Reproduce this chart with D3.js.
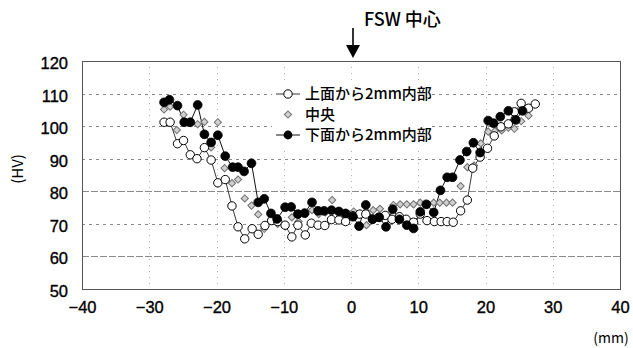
<!DOCTYPE html>
<html>
<head>
<meta charset="utf-8">
<script src="https://cdn.jsdelivr.net/npm/d3@7"></script>
<style>
  html, body { margin: 0; padding: 0; background: #fff; }
  svg { display: block; }
</style>
</head>
<body>
<svg id="chart" width="633" height="348"></svg>
<script>
// Hardness profile across the FSW joint: distance from weld centre (mm) vs Vickers hardness (HV)
const xTicks = [-40, -30, -20, -10, 0, 10, 20, 30, 40];
const yTicks = [50, 60, 70, 80, 90, 100, 110, 120];

const seriesNames = ["上面から2mm内部", "中央", "下面から2mm内部"];

// 上面から2mm内部 (open circles)
const topPos = [-27.8, -26.9, -25.8, -24.9, -23.9, -22.9, -21.8, -20.8, -19.8, -18.7,
  -17.7, -16.8, -15.8, -14.7, -13.8, -12.8, -11.8, -10.9, -9.8, -8.8,
  -7.9, -6.8, -5.9, -4.9, -3.9, -2.9, -1.8, -0.8, 0.3, 1.3,
  2.2, 3.2, 4.1, 5.1, 6.1, 7.2, 8.2, 9.3, 10.3, 11.3,
  12.4, 13.4, 14.3, 15.2, 16.3, 17.3, 18.1, 19.2, 20.3, 21.3,
  22.3, 23.4, 24.3, 25.3, 26.4, 27.4];
const topHV = [101.2, 101.2, 94.6, 95.6, 91.2, 90.0, 93.4, 89.6, 82.6, 83.6,
  75.5, 69.1, 65.4, 68.5, 66.8, 69.5, 71.0, 70.7, 69.6, 66.0,
  69.6, 66.6, 70.2, 69.6, 69.5, 71.3, 71.2, 70.7, 72.5, 73.0,
  73.0, 71.5, 72.0, 72.6, 71.4, 72.2, 71.4, 70.5, 73.0, 71.0,
  70.7, 70.7, 70.7, 70.5, 74.0, 77.3, 87.1, 90.5, 93.2, 97.0,
  99.8, 100.7, 104.4, 107.0, 105.5, 106.8];

// 中央 (grey diamonds)
const midPos = [-27.8, -26.9, -25.9, -24.9, -23.9, -22.8, -21.8, -20.8, -19.8, -18.8,
  -17.7, -16.8, -15.8, -14.8, -13.8, -12.9, -11.9, -10.9, -9.8, -8.8,
  -7.8, -6.8, -5.8, -4.8, -3.8, -2.8, -1.8, -0.8, 0.4, 1.3,
  2.3, 3.3, 4.3, 5.2, 6.3, 7.3, 8.3, 9.3, 10.3, 11.3,
  12.3, 13.2, 14.2, 15.1, 16.3, 17.3, 18.3, 19.3, 20.4, 21.4,
  22.4, 23.4, 24.3, 25.3, 26.4];
const midHV = [105.1, 106.0, 98.8, 103.5, 101.0, 100.6, 101.3, 93.5, 101.2, 87.1,
  82.5, 83.6, 77.8, 75.6, 72.9, 68.5, 71.2, 70.0, 69.2, 72.0,
  70.7, 73.0, 74.2, 73.0, 73.5, 77.3, 73.8, 72.5, 73.8, 73.0,
  69.6, 74.2, 74.6, 72.7, 75.8, 76.0, 76.0, 76.0, 76.5, 75.8,
  76.5, 76.5, 76.5, 76.5, 81.6, 87.4, 87.9, 94.7, 98.3, 98.5,
  98.7, 99.5, 99.2, 101.5, 103.2];

// 下面から2mm内部 (filled circles)
const botPos = [-27.8, -27.0, -25.8, -24.8, -23.9, -22.8, -21.8, -20.8, -19.8, -18.7,
  -17.6, -16.8, -15.9, -14.8, -13.8, -12.9, -11.9, -11.0, -9.8, -8.9,
  -7.9, -6.9, -5.8, -4.9, -4.0, -2.9, -1.8, -0.8, 0.3, 1.2,
  2.2, 3.2, 4.2, 5.2, 6.2, 7.2, 8.3, 9.3, 10.3, 11.2,
  12.3, 13.3, 14.3, 15.1, 16.2, 17.2, 18.2, 19.2, 20.4, 21.2,
  22.2, 23.4, 24.5, 25.5];
const botHV = [107.3, 108.1, 106.3, 101.2, 101.2, 106.5, 97.5, 95.0, 97.2, 90.8,
  87.4, 87.4, 86.1, 88.6, 76.6, 77.7, 73.2, 71.5, 75.1, 75.2,
  73.0, 73.3, 76.6, 74.0, 74.0, 74.2, 73.8, 73.2, 72.2, 69.3,
  75.8, 71.4, 72.0, 69.1, 74.5, 71.4, 69.6, 68.6, 73.7, 76.0,
  73.5, 80.3, 84.3, 84.3, 89.6, 92.2, 94.9, 91.9, 101.7, 100.9,
  102.9, 104.7, 101.9, 104.7];

const svg = d3.select("#chart");
const plot = { left: 82, right: 620, top: 61, bottom: 289 };

const x = d3.scaleLinear().domain([-40, 40]).range([plot.left, plot.right]);
const y = d3.scaleLinear().domain([50, 120]).range([plot.bottom, plot.top]);

const numFont = "'Liberation Sans', Arial, sans-serif";
const jpFont = "'Noto Sans CJK JP', 'Noto Sans', sans-serif";

// grid
const grid = svg.append("g");
grid.selectAll("line.h")
  .data(yTicks.filter(d => d > 50 && d < 120))
  .join("line")
  .attr("x1", plot.left).attr("x2", plot.right)
  .attr("y1", d => Math.round(y(d)) + 0.5).attr("y2", d => Math.round(y(d)) + 0.5)
  .attr("stroke", "#8a8a8a").attr("stroke-width", 1)
  .attr("stroke-dasharray", d => (d === 80 || d === 60) ? "7,2" : "3,4");
grid.selectAll("line.v")
  .data(xTicks.filter(d => d > -40 && d < 40))
  .join("line")
  .attr("x1", d => Math.round(x(d)) + 0.5).attr("x2", d => Math.round(x(d)) + 0.5)
  .attr("y1", plot.top).attr("y2", plot.bottom)
  .attr("stroke", "#b0b0b0").attr("stroke-width", 1)
  .attr("stroke-dasharray", "1,5");

// frame
svg.append("rect")
  .attr("x", plot.left + 0.5).attr("y", plot.top + 0.5)
  .attr("width", plot.right - plot.left).attr("height", plot.bottom - plot.top)
  .attr("fill", "none").attr("stroke", "#555").attr("stroke-width", 1);

// axes (labels only, domain drawn by the frame)
const yAxis = d3.axisLeft(y).tickValues(yTicks).tickSize(0).tickPadding(14);
svg.append("g").attr("transform", `translate(${plot.left},0)`).call(yAxis)
  .call(g => g.select(".domain").remove())
  .call(g => g.selectAll("text").attr("font-family", numFont).attr("font-size", 16.5)
    .attr("fill", "#000").attr("stroke", "#000").attr("stroke-width", 0.35).attr("dy", "0.45em"));

const xAxis = d3.axisBottom(x).tickValues(xTicks).tickSize(0).tickPadding(12)
  .tickFormat(d => d < 0 ? "\u2212" + Math.abs(d) : String(d));
svg.append("g").attr("transform", `translate(0,${plot.bottom})`).call(xAxis)
  .call(g => g.select(".domain").remove())
  .call(g => g.selectAll("text").attr("font-family", numFont).attr("font-size", 16.5)
    .attr("fill", "#000").attr("stroke", "#000").attr("stroke-width", 0.35));

// axis titles
svg.append("text")
  .attr("transform", "translate(23,169) rotate(-90)")
  .attr("text-anchor", "middle")
  .attr("font-family", jpFont).attr("font-size", 15)
  .text("(HV)");
svg.append("text")
  .attr("x", 611).attr("y", 343)
  .attr("text-anchor", "middle")
  .attr("font-family", jpFont).attr("font-size", 14)
  .text("(mm)");

// weld centre marker
const cx = x(0) + 2;
svg.append("line")
  .attr("x1", cx).attr("x2", cx).attr("y1", 28).attr("y2", 46)
  .attr("stroke", "#000").attr("stroke-width", 1.6);
svg.append("path")
  .attr("d", `M${cx - 7},45 L${cx + 7},45 L${cx},58 Z`)
  .attr("fill", "#000");
svg.append("text")
  .attr("x", 364).attr("y", 26)
  .attr("font-family", jpFont).attr("font-size", 18).attr("font-weight", 500)
  .text("FSW 中心");

// series
const line = d3.line().x(d => x(d[0])).y(d => y(d[1]));
const topData = d3.zip(topPos, topHV);
const midData = d3.zip(midPos, midHV);
const botData = d3.zip(botPos, botHV);

const diamond = d3.symbol().type(d3.symbolSquare).size(26);

svg.append("path").datum(topData).attr("d", line)
  .attr("fill", "none").attr("stroke", "#222").attr("stroke-width", 0.9);
svg.append("path").datum(botData).attr("d", line)
  .attr("fill", "none").attr("stroke", "#111").attr("stroke-width", 1);

svg.append("g").selectAll("path").data(midData).join("path")
  .attr("d", diamond)
  .attr("transform", d => `translate(${x(d[0])},${y(d[1])}) rotate(45)`)
  .attr("fill", "#d0d0d0").attr("stroke", "#707070").attr("stroke-width", 1);

svg.append("g").selectAll("circle").data(topData).join("circle")
  .attr("cx", d => x(d[0])).attr("cy", d => y(d[1])).attr("r", 4.2)
  .attr("fill", "#fff").attr("stroke", "#000").attr("stroke-width", 1);

svg.append("g").selectAll("circle").data(botData).join("circle")
  .attr("cx", d => x(d[0])).attr("cy", d => y(d[1])).attr("r", 4.4)
  .attr("fill", "#000").attr("stroke", "#000").attr("stroke-width", 0.8);

// legend
const legend = svg.append("g").attr("transform", "translate(276,0)");
const rows = [94, 114.5, 135];
legend.append("rect").attr("x", -4).attr("y", 84).attr("width", 160).attr("height", 62).attr("fill", "#fff");
// row 1
legend.append("line").attr("x1", 0).attr("x2", 24).attr("y1", rows[0]).attr("y2", rows[0])
  .attr("stroke", "#222").attr("stroke-width", 0.9);
legend.append("circle").attr("cx", 12).attr("cy", rows[0]).attr("r", 4.2)
  .attr("fill", "#fff").attr("stroke", "#000");
// row 2
legend.append("path").attr("d", diamond)
  .attr("transform", `translate(12,${rows[1]}) rotate(45)`)
  .attr("fill", "#d0d0d0").attr("stroke", "#707070");
// row 3
legend.append("line").attr("x1", 0).attr("x2", 24).attr("y1", rows[2]).attr("y2", rows[2])
  .attr("stroke", "#111").attr("stroke-width", 1);
legend.append("circle").attr("cx", 12).attr("cy", rows[2]).attr("r", 4.4)
  .attr("fill", "#000");

legend.selectAll("text").data(seriesNames).join("text")
  .attr("x", 29).attr("y", (d, i) => rows[i])
  .attr("dy", "0.36em")
  .attr("font-family", jpFont).attr("font-size", 15).attr("font-weight", 500)
  .text(d => d);
</script>
</body>
</html>
